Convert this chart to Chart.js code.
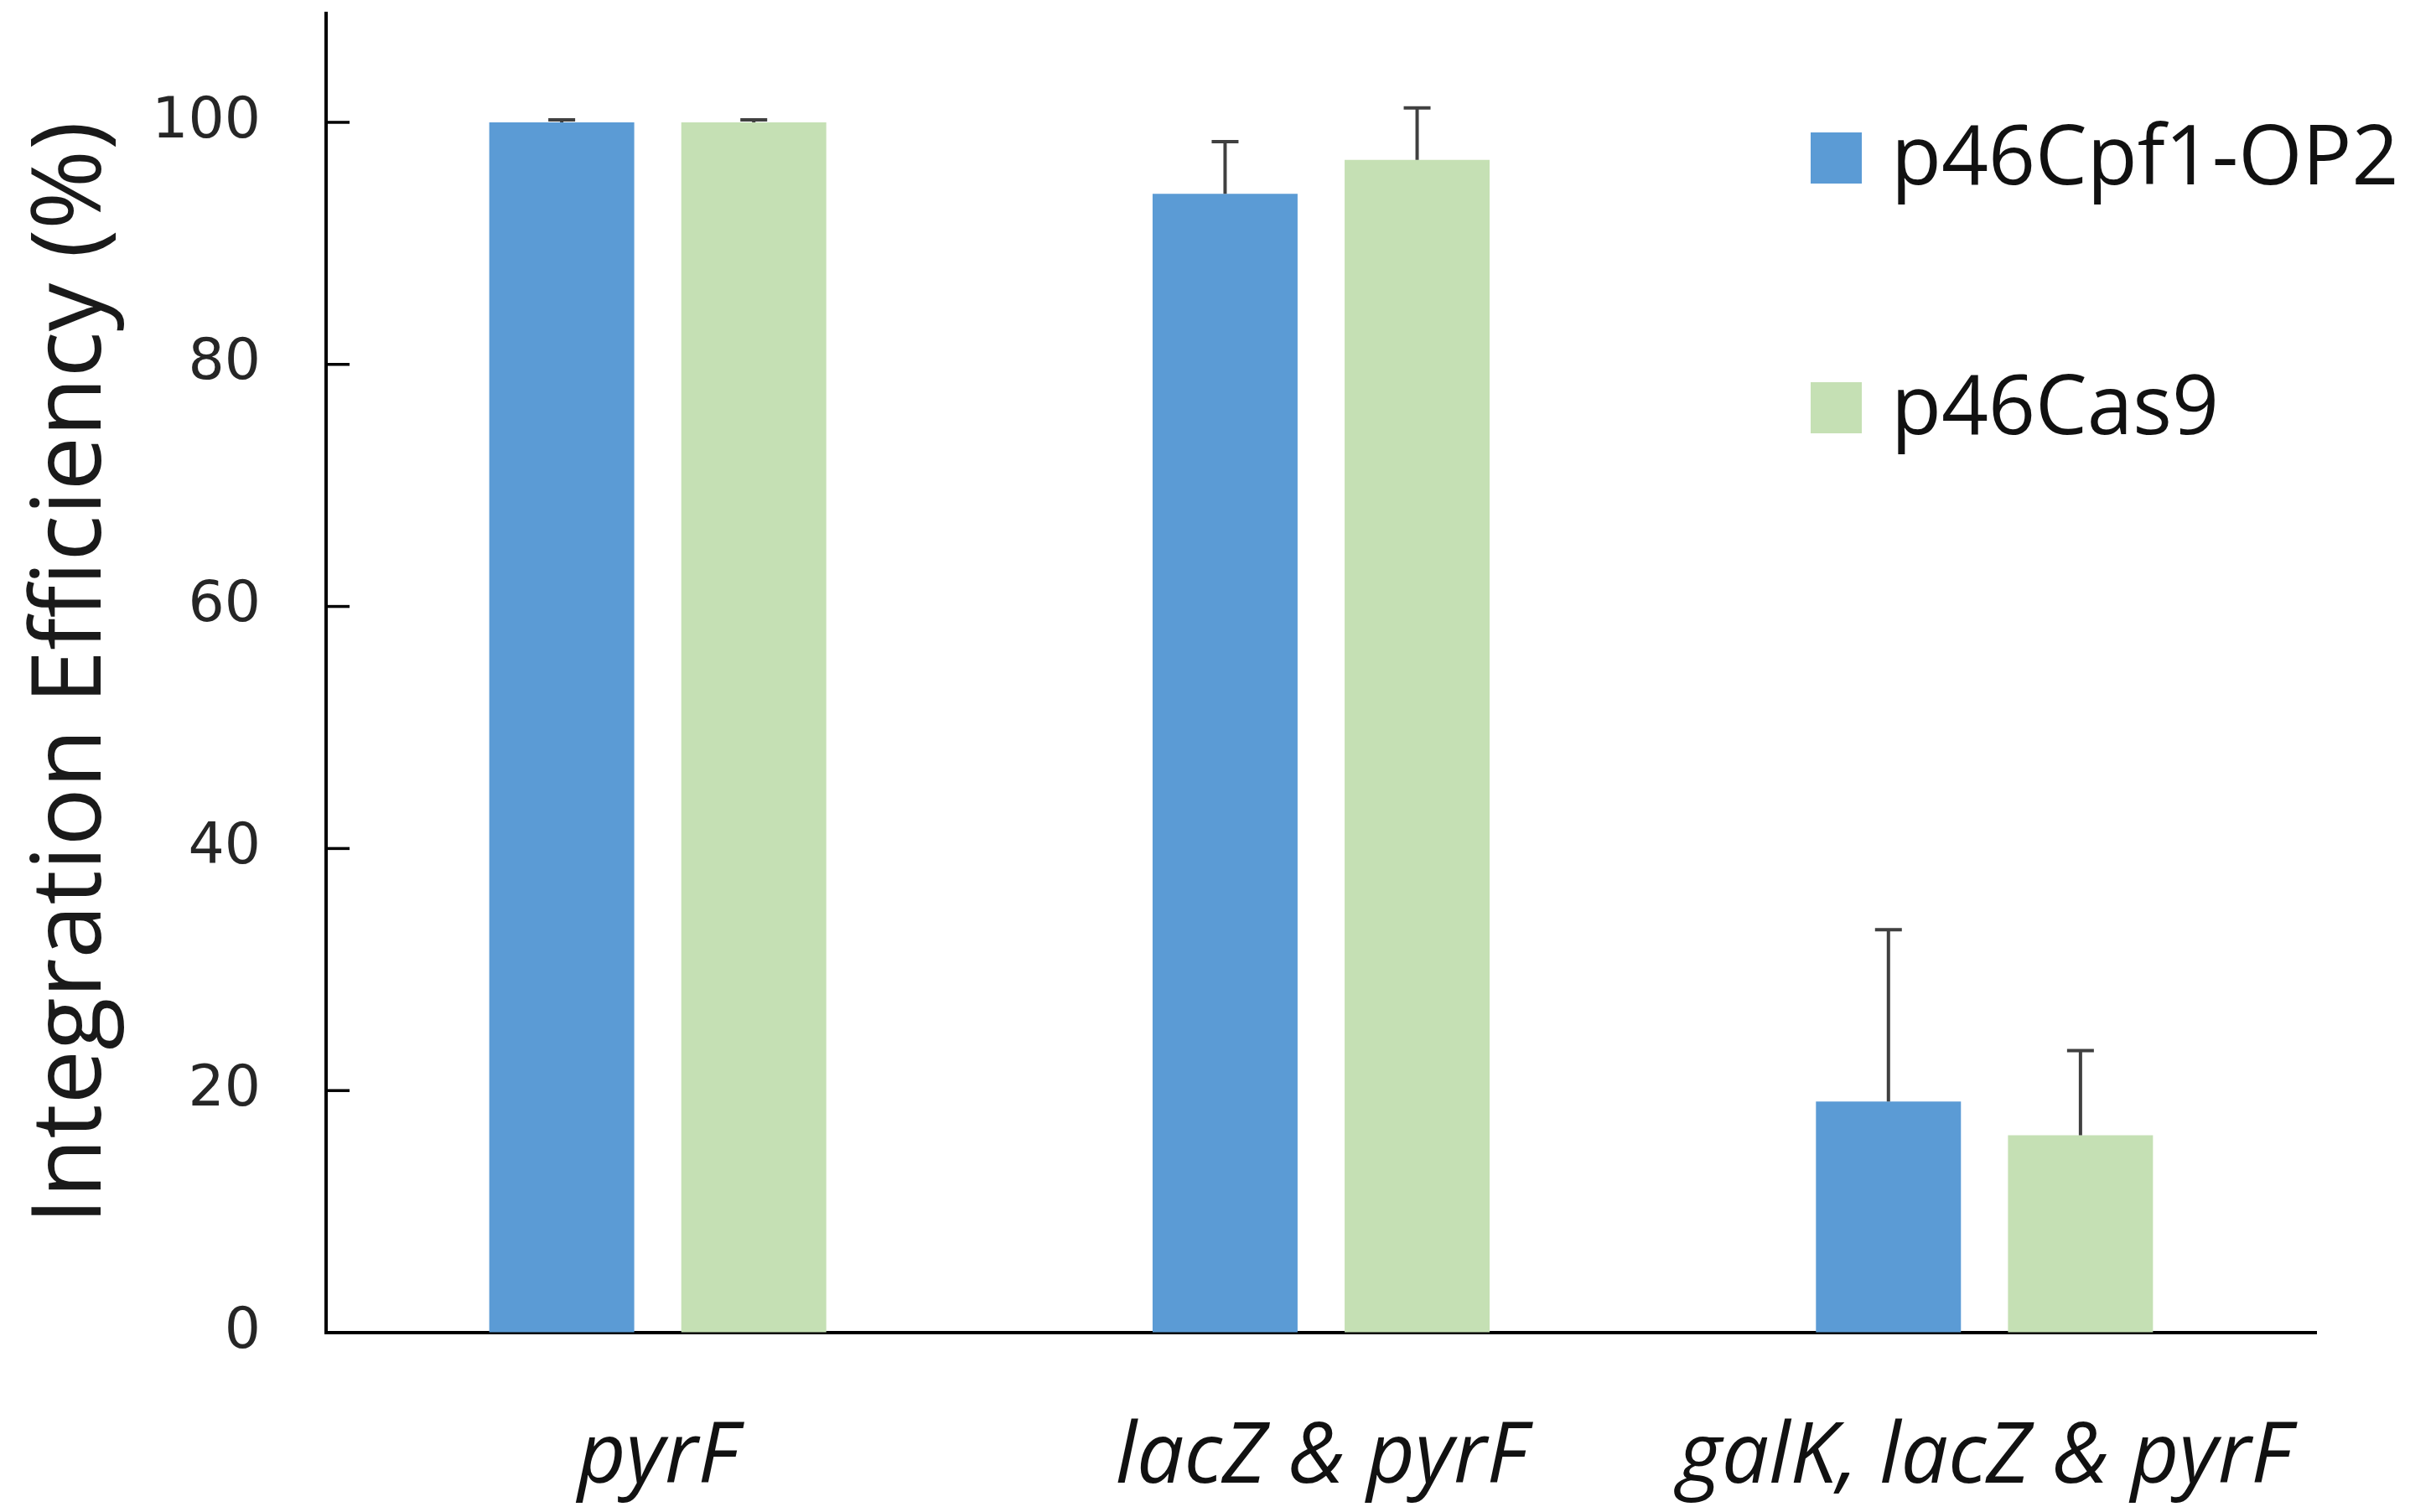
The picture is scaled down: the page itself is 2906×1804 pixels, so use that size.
<!DOCTYPE html>
<html>
<head>
<meta charset="utf-8">
<script src="https://cdn.jsdelivr.net/npm/chart.js@4.4.1/dist/chart.umd.min.js"></script>
<style>
  html, body { margin: 0; padding: 0; background: #fff; }
  #wrap { width: 2906px; height: 1804px; position: relative; }
</style>
</head>
<body>
<div id="wrap"><canvas id="myChart"></canvas></div>
<script>
const categories = ["pyrF", "lacZ & pyrF", "galK, lacZ & pyrF"];
const seriesNames = ["p46Cpf1-OP2", "p46Cas9"];
const cpf1Values = [100, 94.1, 19.1];
const cpf1Errors = [0.2, 4.3, 14.2];
const cas9Values = [100, 96.9, 16.3];
const cas9Errors = [0.2, 4.3, 7.0];
const yTickValues = [0, 20, 40, 60, 80, 100];

const blue = "#5b9bd5";
const green = "#c5e0b4";

// error bars (plus side only), drawn from the bar tops
const errorBars = {
  id: "errorBars",
  afterDatasetsDraw(chart) {
    const ctx = chart.ctx;
    const y = chart.scales.y;
    chart.data.datasets.forEach((ds, i) => {
      const meta = chart.getDatasetMeta(i);
      meta.data.forEach((bar, j) => {
        const top = y.getPixelForValue(ds.data[j] + ds.errors[j]);
        ctx.save();
        ctx.strokeStyle = "#404040";
        ctx.lineWidth = 4;
        ctx.beginPath();
        ctx.moveTo(bar.x, bar.y);
        ctx.lineTo(bar.x, top);
        ctx.moveTo(bar.x - 16, top);
        ctx.lineTo(bar.x + 16, top);
        ctx.stroke();
        ctx.restore();
      });
    });
  },
};

// tick marks on the inside of the y axis
const insideTicks = {
  id: "insideTicks",
  afterDraw(chart) {
    const ctx = chart.ctx;
    const y = chart.scales.y;
    const left = chart.chartArea.left;
    ctx.save();
    ctx.strokeStyle = "#000";
    ctx.lineWidth = 3.5;
    y.ticks.forEach((t) => {
      const py = y.getPixelForValue(t.value);
      ctx.beginPath();
      ctx.moveTo(left, py);
      ctx.lineTo(left + 28, py);
      ctx.stroke();
    });
    ctx.restore();
  },
};

// legend sitting inside the plot, top right
const boxLegend = {
  id: "boxLegend",
  afterDraw(chart) {
    const ctx = chart.ctx;
    const rows = [
      { color: blue, text: seriesNames[0], base: 220 },
      { color: green, text: seriesNames[1], base: 518 },
    ];
    ctx.save();
    ctx.font = '98px "Open Sans"';
    ctx.textBaseline = "alphabetic";
    ctx.textAlign = "left";
    rows.forEach((r) => {
      ctx.fillStyle = r.color;
      ctx.fillRect(2160, r.base - 62, 61, 61);
      ctx.fillStyle = "#111";
      ctx.fillText(r.text, 2256, r.base);
    });
    ctx.restore();
  },
};

function draw() {
  const ctx = document.getElementById("myChart").getContext("2d");
  new Chart(ctx, {
    type: "bar",
    data: {
      labels: categories,
      datasets: [
        {
          label: seriesNames[0],
          data: cpf1Values,
          errors: cpf1Errors,
          backgroundColor: blue,
          categoryPercentage: 0.579,
          barPercentage: 0.755,
        },
        {
          label: seriesNames[1],
          data: cas9Values,
          errors: cas9Errors,
          backgroundColor: green,
          categoryPercentage: 0.579,
          barPercentage: 0.755,
        },
      ],
    },
    options: {
      responsive: true,
      maintainAspectRatio: false,
      animation: false,
      devicePixelRatio: 1,
      layout: { padding: { top: 16, right: 143, left: 0, bottom: 0 } },
      plugins: {
        legend: { display: false },
        tooltip: { enabled: false },
      },
      scales: {
        x: {
          grid: { display: false, drawTicks: false },
          border: { display: true, color: "#000", width: 4 },
          ticks: {
            color: "#111",
            padding: 91,
            font: { family: "Open Sans", size: 100, style: "italic" },
          },
          afterFit(scale) {
            scale.height = 214;
          },
        },
        y: {
          min: 0,
          max: 109,
          grid: { drawOnChartArea: false, drawTicks: false },
          border: { display: true, color: "#000", width: 4 },
          ticks: {
            stepSize: 20,
            padding: 78,
            color: "#262626",
            font: { family: "DejaVu Sans", size: 68 },
          },
          afterBuildTicks(scale) {
            scale.ticks = yTickValues.map((v) => ({ value: v }));
          },
          afterFit(scale) {
            scale.width = 389;
            scale.paddingTop = 0;
            scale.paddingBottom = 0;
          },
          title: {
            display: true,
            text: "Integration Efficiency (%)",
            color: "#1a1a1a",
            padding: { top: 18, bottom: 0 },
            font: { family: "Open Sans", size: 115 },
          },
        },
      },
    },
    plugins: [errorBars, insideTicks, boxLegend],
  });
}

Promise.all([
  document.fonts.load('100px "Open Sans"'),
  document.fonts.load('italic 100px "Open Sans"'),
  document.fonts.load('66px "DejaVu Sans"'),
]).then(draw, draw);
</script>
</body>
</html>
